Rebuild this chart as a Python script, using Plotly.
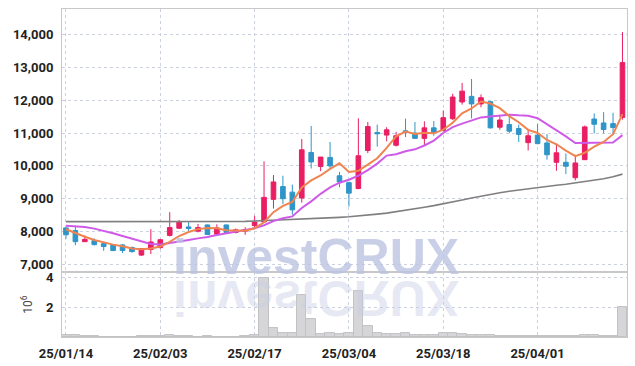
import plotly.graph_objects as go

dates = [
    "25/01/14", "25/01/15", "25/01/16", "25/01/17", "25/01/20", "25/01/21", "25/01/22", "25/01/23", "25/01/24", "25/01/31",
    "25/02/03", "25/02/04", "25/02/05", "25/02/06", "25/02/07", "25/02/10", "25/02/11", "25/02/12", "25/02/13", "25/02/14",
    "25/02/17", "25/02/18", "25/02/19", "25/02/20", "25/02/21", "25/02/24", "25/02/25", "25/02/26", "25/02/27", "25/02/28",
    "25/03/04", "25/03/05", "25/03/06", "25/03/07", "25/03/10", "25/03/11", "25/03/12", "25/03/13", "25/03/14", "25/03/17",
    "25/03/18", "25/03/19", "25/03/20", "25/03/21", "25/03/24", "25/03/25", "25/03/26", "25/03/27", "25/03/28", "25/03/31",
    "25/04/01", "25/04/02", "25/04/03", "25/04/04", "25/04/07", "25/04/08", "25/04/09", "25/04/10", "25/04/11", "25/04/14",
]
open_ = [8110, 8030, 7690, 7720, 7630, 7590, 7590, 7510, 7280, 7450,
         7510, 7880, 8100, 8140, 8010, 8200, 7920, 8200, 7970, 8010,
         8180, 8290, 8980, 9370, 9200, 9020, 10410, 9980, 10260, 9700,
         9490, 9310, 10470, 11020, 10940, 10630, 11070, 11000, 10840, 11160,
         11080, 11440, 11950, 12120, 11890, 11960, 11180, 11260, 11140, 10710,
         10940, 10700, 10110, 10110, 9640, 10190, 11430, 11310, 11290, 11480]
high = [8130, 8180, 7880, 7790, 7680, 7600, 7620, 7540, 7490, 8070,
        7770, 8590, 8350, 8300, 8230, 8210, 8220, 8210, 8090, 8130,
        8480, 10140, 9720, 9700, 9430, 10820, 11220, 10270, 10730, 9820,
        9520, 11450, 11340, 11260, 11180, 11040, 11440, 11340, 11360, 11370,
        11690, 12200, 12530, 12650, 12180, 11980, 11530, 11550, 11260, 11120,
        11280, 10970, 10680, 10380, 10340, 11230, 11600, 11640, 11620, 14080]
low = [7780, 7580, 7680, 7570, 7410, 7400, 7340, 7350, 7250, 7310,
       7470, 7850, 8080, 7970, 7970, 7900, 7900, 7960, 7940, 7900,
       8070, 8280, 8700, 8840, 8510, 8880, 9920, 9840, 9900, 9350,
       8760, 9290, 10390, 10590, 10750, 10590, 10880, 10830, 10630, 10920,
       11050, 11400, 11870, 11450, 11790, 11140, 11100, 11000, 10730, 10470,
       10660, 10190, 9850, 9750, 9560, 10180, 10990, 10990, 10950, 11410]
close = [7900, 7690, 7760, 7600, 7540, 7420, 7420, 7390, 7480, 7680,
         7750, 8120, 8280, 8090, 8120, 7910, 8110, 7970, 8050, 8060,
         8290, 9040, 9510, 9000, 8660, 10490, 10120, 10270, 10000, 9510,
         9170, 10310, 11200, 10980, 11100, 10920, 11030, 10840, 11160, 11020,
         11470, 12100, 12280, 11890, 12080, 11160, 11400, 11060, 10960, 10920,
         10680, 10340, 10400, 9990, 10090, 11190, 11270, 11110, 11170, 13150]
ma5 = [8070, 7950, 7840, 7740, 7660, 7600, 7548, 7480, 7455, 7480,
       7544, 7684, 7862, 7984, 8072, 8104, 8102, 8040, 8032, 8020,
       8096, 8282, 8590, 8780, 8900, 9340, 9556, 9708, 9908, 10078,
       9814, 9852, 10038, 10234, 10552, 10902, 11046, 10974, 11010, 10994,
       11104, 11318, 11606, 11752, 11964, 11902, 11762, 11518, 11332, 11100,
       11004, 10792, 10660, 10466, 10300, 10402, 10588, 10730, 10966, 11578]
ma10 = [8178, 8169, 8138, 8087, 8026, 7944, 7863, 7780, 7700, 7620,
        7600, 7640, 7690, 7740, 7790, 7830, 7893, 7951, 8008, 8046,
        8100, 8192, 8315, 8406, 8460, 8718, 8919, 9149, 9344, 9489,
        9577, 9704, 9873, 10071, 10315, 10358, 10449, 10506, 10622, 10773,
        11003, 11182, 11290, 11381, 11479, 11503, 11540, 11562, 11542, 11532,
        11453, 11277, 11089, 10899, 10700, 10703, 10690, 10695, 10716, 10939]
ma_long = [8300, 8300, 8298, 8295, 8293, 8292, 8291, 8290, 8290, 8290,
           8291, 8292, 8293, 8294, 8295, 8296, 8298, 8300, 8303, 8308,
           8320, 8330, 8340, 8350, 8360, 8370, 8385, 8400, 8415, 8432,
           8450, 8470, 8500, 8530, 8560, 8600, 8640, 8690, 8740, 8790,
           8840, 8900, 8960, 9020, 9080, 9130, 9180, 9225, 9265, 9300,
           9340, 9380, 9410, 9440, 9480, 9510, 9550, 9610, 9670, 9750]
volume_m = [0.12, 0.10, 0.04, 0.04, 0.03, 0.03, 0.03, 0.03, 0.04, 0.05,
            0.06, 0.10, 0.05, 0.04, 0.03, 0.04, 0.03, 0.03, 0.03, 0.05,
            0.10, 3.96, 0.63, 0.25, 0.25, 2.83, 1.22, 0.18, 0.25, 0.18,
            0.25, 3.09, 0.73, 0.29, 0.18, 0.18, 0.25, 0.15, 0.12, 0.15,
            0.29, 0.29, 0.20, 0.15, 0.10, 0.15, 0.08, 0.08, 0.06, 0.08,
            0.06, 0.05, 0.05, 0.05, 0.06, 0.15, 0.15, 0.08, 0.08, 2.03]
tick_dates = ["25/01/14", "25/02/03", "25/02/17", "25/03/04", "25/03/18", "25/04/01"]
price_ticks = [7000, 8000, 9000, 10000, 11000, 12000, 13000, 14000]
vol_ticks = [2, 4]

UP = "#e91e63"
DOWN = "#2f95c8"
GRID = "#ccd1e0"
TICKFONT = dict(family="Roboto", size=13, color="#222", weight="bold")

fig = go.Figure()
fig.add_trace(go.Candlestick(
    x=dates, open=open_, high=high, low=low, close=close,
    increasing=dict(line=dict(color=UP, width=1), fillcolor=UP),
    decreasing=dict(line=dict(color=DOWN, width=1), fillcolor=DOWN),
    whiskerwidth=0, showlegend=False, hoverinfo="skip", xaxis="x", yaxis="y"))
fig.add_trace(go.Scatter(x=dates, y=ma_long, mode="lines", line=dict(color="#7f7f7f", width=1.6),
                         showlegend=False, xaxis="x", yaxis="y"))
fig.add_trace(go.Scatter(x=dates, y=ma10, mode="lines", line=dict(color="#cf5ae8", width=2),
                         showlegend=False, xaxis="x", yaxis="y"))
fig.add_trace(go.Scatter(x=dates, y=ma5, mode="lines", line=dict(color="#ef8450", width=2),
                         showlegend=False, xaxis="x", yaxis="y"))
fig.add_trace(go.Bar(x=dates, y=volume_m, marker=dict(color="#d6d6d8", line=dict(color="#c2c2c5", width=1)),
                     showlegend=False, xaxis="x2", yaxis="y2"))

xcommon = dict(type="category", categoryorder="array", categoryarray=dates,
               range=[-0.42, 59.48], autorange=False, showgrid=True, gridcolor=GRID, griddash="dot", gridwidth=1,
               tickvals=tick_dates, ticktext=tick_dates, showline=True, mirror=True,
               linecolor="#c8c8c8", linewidth=1, zeroline=False, automargin=False)

fig.update_layout(
    width=635, height=366,
    margin=dict(l=62, r=8, t=9, b=29),
    paper_bgcolor="white", plot_bgcolor="white",
    bargap=0,
    xaxis=dict(**xcommon, anchor="y", showticklabels=False, rangeslider=dict(visible=False)),
    xaxis2=dict(**xcommon, anchor="y2", showticklabels=True, tickfont=TICKFONT,
                ticks="outside", ticklen=4, tickcolor="rgba(0,0,0,0)"),
    yaxis=dict(domain=[0.198, 1], range=[6763, 14785], tickvals=price_ticks, tickformat=",d",
               showgrid=True, gridcolor=GRID, griddash="dot", gridwidth=1, zeroline=False,
               showline=True, mirror=True, linecolor="#c8c8c8", tickfont=TICKFONT, automargin=False,
               ticks="outside", ticklen=5, tickcolor="rgba(0,0,0,0)", anchor="x"),
    yaxis2=dict(domain=[0, 0.198], range=[0, 4.38], tickvals=vol_ticks, ticktext=[str(v) for v in vol_ticks],
                showgrid=True, gridcolor=GRID, griddash="dot", gridwidth=1, zeroline=False,
                showline=True, mirror=True, linecolor="#c8c8c8", tickfont=TICKFONT, automargin=False,
                ticks="outside", ticklen=5, tickcolor="rgba(0,0,0,0)", anchor="x2",
                title=dict(text="10<sup>6</sup>", font=dict(family="Roboto", size=12, color="#444"), standoff=10)),
    annotations=[
        dict(text="<b>investCRUX</b>", xref="paper", yref="paper", x=0.449, y=0.244,
             xanchor="center", yanchor="middle", showarrow=False,
             font=dict(family="Liberation Sans", size=50, color="rgba(186,195,224,0.8)")),
        dict(text="<b>investCRUX</b>", xref="paper", yref="paper", x=0.449, y=0.118,
             xanchor="center", yanchor="middle", showarrow=False,
             font=dict(family="Liberation Sans", size=50, color="rgba(200,206,228,0.45)")),
    ],
)

js = """
document.documentElement.style.margin = '0';
document.body.style.margin = '0';
document.body.style.padding = '0';
document.body.style.overflow = 'hidden';
var gd = document.getElementById('{plot_id}');
var anns = gd.querySelectorAll('g.annotation');
if (anns.length > 1) {
  var g = anns[1];
  var bb = g.getBBox();
  var cy = bb.y + bb.height / 2;
  g.setAttribute('transform', 'translate(0,' + (2 * cy) + ') scale(1,-1)');
}
"""
fig.write_html("out.html", post_script=js, config={"displayModeBar": False})
